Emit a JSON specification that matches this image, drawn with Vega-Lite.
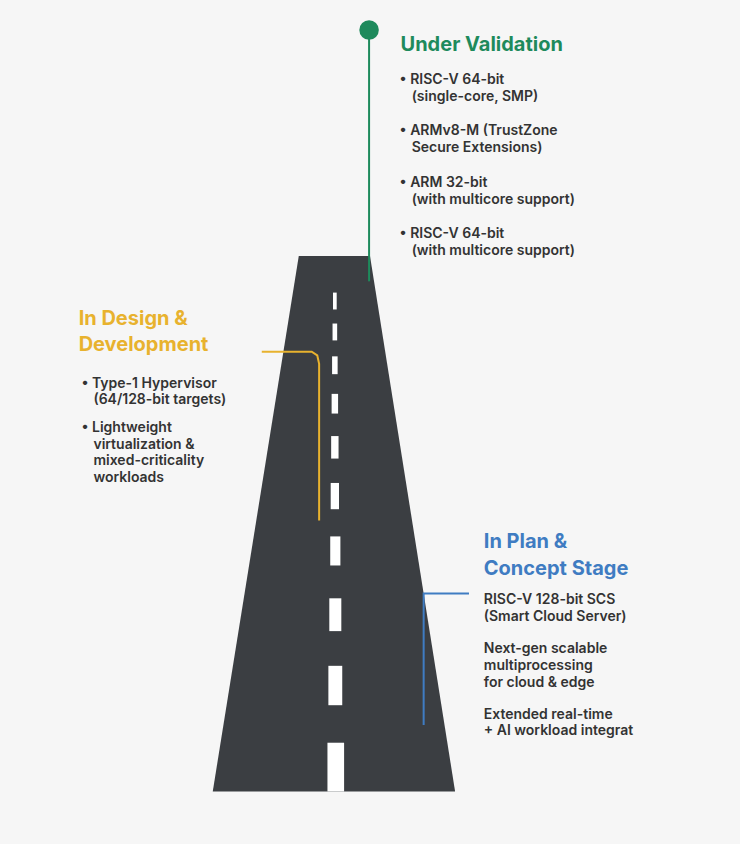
{
  "$schema": "https://vega.github.io/schema/vega-lite/v6.json",
  "width": 740,
  "height": 844,
  "autosize": {"type": "none"},
  "padding": 0,
  "background": "#f6f6f6",
  "config": {"view": {"stroke": null}, "font": "Inter"},
  "datasets": {
    "road": [
      {"y": 273, "left": 323, "right": 400},
      {"y": 844, "left": 230, "right": 492}
    ],
    "dashes": [
      {"top": 312, "bottom": 330, "l": 360, "r": 364},
      {"top": 345, "bottom": 363, "l": 359.5, "r": 364.5},
      {"top": 380, "bottom": 399, "l": 359, "r": 365},
      {"top": 420, "bottom": 441, "l": 358.5, "r": 365.5},
      {"top": 465, "bottom": 489, "l": 358, "r": 366},
      {"top": 515, "bottom": 543, "l": 357.5, "r": 366.5},
      {"top": 572, "bottom": 603, "l": 357, "r": 368},
      {"top": 638, "bottom": 673, "l": 356, "r": 369},
      {"top": 710, "bottom": 752, "l": 355, "r": 370},
      {"top": 792, "bottom": 844, "l": 354, "r": 372}
    ],
    "connectors": [
      {"stage": "Under Validation", "step": 1, "x": 399, "y": 32},
      {"stage": "Under Validation", "step": 2, "x": 399, "y": 300},
      {"stage": "In Design", "step": 1, "x": 283, "y": 375},
      {"stage": "In Design", "step": 2, "x": 337, "y": 375},
      {"stage": "In Design", "step": 3, "x": 343, "y": 379},
      {"stage": "In Design", "step": 4, "x": 345, "y": 388},
      {"stage": "In Design", "step": 5, "x": 345, "y": 555},
      {"stage": "In Plan", "step": 1, "x": 507, "y": 633},
      {"stage": "In Plan", "step": 2, "x": 458, "y": 633},
      {"stage": "In Plan", "step": 3, "x": 458, "y": 773}
    ],
    "dot": [{"stage": "Under Validation", "x": 399, "y": 32}],
    "titles": [
      {"stage": "Under Validation", "x": 433, "y": 48, "text": "Under Validation"},
      {"stage": "In Design", "x": 85, "y": 340, "text": "In Design &"},
      {"stage": "In Design", "x": 85, "y": 368, "text": "Development"},
      {"stage": "In Plan", "x": 523, "y": 578, "text": "In Plan &"},
      {"stage": "In Plan", "x": 523, "y": 607, "text": "Concept Stage"}
    ],
    "items": [
      {"x": 432, "y": 85, "text": "• RISC-V 64-bit"},
      {"x": 445, "y": 103, "text": "(single-core, SMP)"},
      {"x": 432, "y": 140, "text": "• ARMv8-M (TrustZone"},
      {"x": 445, "y": 158, "text": "Secure Extensions)"},
      {"x": 432, "y": 195, "text": "• ARM 32-bit"},
      {"x": 445, "y": 213, "text": "(with multicore support)"},
      {"x": 432, "y": 250, "text": "• RISC-V 64-bit"},
      {"x": 445, "y": 268, "text": "(with multicore support)"},
      {"x": 88, "y": 409, "text": "• Type-1 Hypervisor"},
      {"x": 101, "y": 427, "text": "(64/128-bit targets)"},
      {"x": 88, "y": 456, "text": "• Lightweight"},
      {"x": 101, "y": 474, "text": "virtualization &"},
      {"x": 101, "y": 492, "text": "mixed-criticality"},
      {"x": 101, "y": 510, "text": "workloads"},
      {"x": 523, "y": 640, "text": "RISC-V 128-bit SCS"},
      {"x": 523, "y": 658, "text": "(Smart Cloud Server)"},
      {"x": 523, "y": 692, "text": "Next-gen scalable"},
      {"x": 523, "y": 710, "text": "multiprocessing"},
      {"x": 523, "y": 728, "text": "for cloud & edge"},
      {"x": 523, "y": 762, "text": "Extended real-time"},
      {"x": 523, "y": 780, "text": "+ AI workload integrat"}
    ]
  },
  "layer": [
    {
      "data": {"name": "road"},
      "mark": {"type": "area", "orient": "horizontal", "color": "#3b3e42"},
      "encoding": {
        "y": {"field": "y", "type": "quantitative", "scale": {"domain": [0, 844], "reverse": true}, "axis": null},
        "x": {"field": "left", "type": "quantitative", "scale": {"domain": [0, 740]}, "axis": null},
        "x2": {"field": "right"}
      }
    },
    {
      "data": {"name": "dashes"},
      "mark": {"type": "rect", "color": "#ffffff"},
      "encoding": {
        "x": {"field": "l", "type": "quantitative"},
        "x2": {"field": "r"},
        "y": {"field": "top", "type": "quantitative"},
        "y2": {"field": "bottom"}
      }
    },
    {
      "data": {"name": "connectors"},
      "mark": {"type": "line", "strokeWidth": 2, "interpolate": "linear"},
      "encoding": {
        "x": {"field": "x", "type": "quantitative"},
        "y": {"field": "y", "type": "quantitative"},
        "order": {"field": "step"},
        "detail": {"field": "stage"},
        "color": {"field": "stage", "type": "nominal", "legend": null,
          "scale": {"domain": ["Under Validation", "In Design", "In Plan"], "range": ["#1e8a5c", "#e8b22e", "#3f7cc2"]}}
      }
    },
    {
      "data": {"name": "dot"},
      "mark": {"type": "circle", "size": 380, "opacity": 1},
      "encoding": {
        "x": {"field": "x", "type": "quantitative"},
        "y": {"field": "y", "type": "quantitative"},
        "color": {"field": "stage", "type": "nominal", "legend": null}
      }
    },
    {
      "data": {"name": "titles"},
      "mark": {"type": "text", "align": "left", "baseline": "middle", "fontSize": 20, "fontWeight": "bold"},
      "encoding": {
        "x": {"field": "x", "type": "quantitative"},
        "y": {"field": "y", "type": "quantitative"},
        "text": {"field": "text"},
        "color": {"field": "stage", "type": "nominal", "legend": null}
      }
    },
    {
      "data": {"name": "items"},
      "mark": {"type": "text", "align": "left", "baseline": "middle", "fontSize": 14, "fontWeight": 600, "color": "#333333"},
      "encoding": {
        "x": {"field": "x", "type": "quantitative"},
        "y": {"field": "y", "type": "quantitative"},
        "text": {"field": "text"}
      }
    }
  ]
}
